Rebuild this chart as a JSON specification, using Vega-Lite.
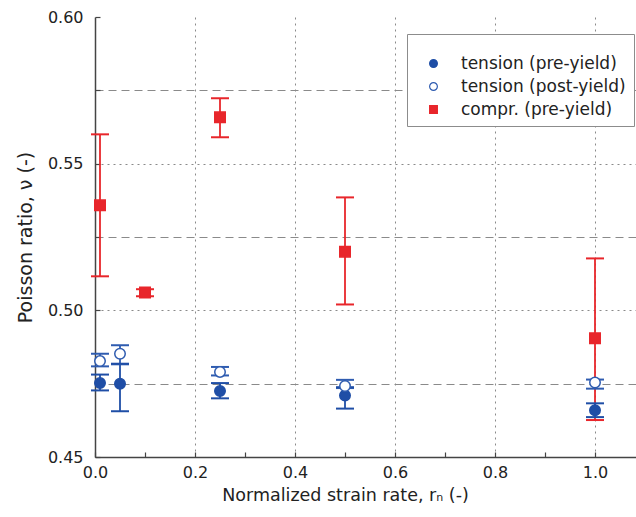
{
  "$schema": "https://vega.github.io/schema/vega-lite/v6.json",
  "autosize": "none",
  "width": 541,
  "height": 440,
  "padding": {"left": 95, "top": 17, "right": 0, "bottom": 60},
  "background": "white",
  "config": {
    "view": {"stroke": null},
    "font": "DejaVu Sans",
    "axis": {"labelFont": "DejaVu Sans", "titleFont": "DejaVu Sans", "labelColor": "#222", "titleColor": "#222", "titleFontWeight": "normal", "domainColor": "#444", "domainWidth": 1.5, "tickColor": "#444", "tickWidth": 1.2, "gridColor": "#8a8a8a", "gridWidth": 1},
    "legend": {"labelFont": "DejaVu Sans", "labelFontSize": 17, "labelColor": "#222", "labelLimit": 400, "strokeColor": "#8c8c8c", "fillColor": "white", "padding": 8, "symbolOffset": 10, "labelOffset": 19, "rowPadding": 5, "symbolSize": 60, "symbolStrokeWidth": 1.2, "titleFontSize": 13, "titlePadding": 0}
  },
  "data": {"values": [
    {"series": "compr. (pre-yield)", "x": 0.01, "y": 0.5358, "lo": 0.5116, "hi": 0.5600},
    {"series": "compr. (pre-yield)", "x": 0.1, "y": 0.5061, "lo": 0.5048, "hi": 0.5072},
    {"series": "compr. (pre-yield)", "x": 0.25, "y": 0.5658, "lo": 0.5590, "hi": 0.5723},
    {"series": "compr. (pre-yield)", "x": 0.5, "y": 0.5200, "lo": 0.5020, "hi": 0.5385},
    {"series": "compr. (pre-yield)", "x": 1.0, "y": 0.4905, "lo": 0.4626, "hi": 0.5177},
    {"series": "tension (pre-yield)", "x": 0.01, "y": 0.4752, "lo": 0.4727, "hi": 0.4781},
    {"series": "tension (pre-yield)", "x": 0.05, "y": 0.4750, "lo": 0.4656, "hi": 0.4818},
    {"series": "tension (pre-yield)", "x": 0.25, "y": 0.4725, "lo": 0.4700, "hi": 0.4752},
    {"series": "tension (pre-yield)", "x": 0.5, "y": 0.4710, "lo": 0.4665, "hi": 0.4738},
    {"series": "tension (pre-yield)", "x": 1.0, "y": 0.4659, "lo": 0.4636, "hi": 0.4683},
    {"series": "tension (post-yield)", "x": 0.01, "y": 0.4827, "lo": 0.4809, "hi": 0.4852},
    {"series": "tension (post-yield)", "x": 0.05, "y": 0.4852, "lo": 0.4816, "hi": 0.4881},
    {"series": "tension (post-yield)", "x": 0.25, "y": 0.4790, "lo": 0.4778, "hi": 0.4807},
    {"series": "tension (post-yield)", "x": 0.5, "y": 0.4742, "lo": 0.4735, "hi": 0.4763},
    {"series": "tension (post-yield)", "x": 1.0, "y": 0.4754, "lo": 0.4733, "hi": 0.4764}
  ]},
  "encoding": {
    "x": {"field": "x", "type": "quantitative",
      "scale": {"domain": [0, 1.082], "nice": false, "zero": false},
      "axis": {
        "title": "Normalized strain rate, rₙ (-)", "titleFontSize": 17.5, "titlePadding": 6,
        "titleX": 250, "titleAlign": "center",
        "values": [0, 0.1, 0.2, 0.3, 0.4, 0.5, 0.6, 0.7, 0.8, 0.9, 1.0],
        "labelExpr": "round(datum.value*10) % 2 == 0 ? format(datum.value, '.1f') : ''",
        "labelFontSize": 16, "labelPadding": 12, "labelFlush": false,
        "tickSize": -5,
        "grid": true, "gridDash": [2, 4],
        "gridOpacity": {"condition": {"test": "round(datum.value*10) % 2 == 0 && datum.value > 0", "value": 1}, "value": 0}
      }},
    "y": {"field": "y", "type": "quantitative",
      "scale": {"domain": [0.45, 0.6], "nice": false, "zero": false},
      "axis": {
        "title": "Poisson ratio, ν (-)", "titleFontSize": 19, "titlePadding": 12,
        "values": [0.45, 0.475, 0.5, 0.525, 0.55, 0.575, 0.6],
        "labelExpr": "round(datum.value*1000) % 50 == 0 ? format(datum.value, '.2f') : ''",
        "labelFontSize": 16, "labelPadding": 17, "labelFlush": false,
        "tickSize": -5,
        "grid": true,
        "gridDash": {"condition": {"test": "round(datum.value*1000) % 50 == 0", "value": [2, 4]}, "value": [8, 5]},
        "gridOpacity": {"condition": {"test": "datum.value > 0.59 || datum.value < 0.46", "value": 0}, "value": 1}
      }},
    "stroke": {"field": "series", "type": "nominal", "title": " ",
      "legend": {"orient": "none", "legendX": 312, "legendY": 17},
      "scale": {"domain": ["tension (pre-yield)", "tension (post-yield)", "compr. (pre-yield)"], "range": ["#1f4ea6", "#2f5cb0", "#e8262b"]}}
  },
  "layer": [
    {
      "mark": {"type": "rule", "strokeWidth": 1.8},
      "encoding": {
        "y": {"field": "lo", "type": "quantitative"},
        "y2": {"field": "hi"}
      }
    },
    {
      "mark": {"type": "rule", "strokeWidth": 2, "xOffset": -9, "x2Offset": 9},
      "encoding": {
        "x2": {"field": "x"},
        "y": {"field": "lo", "type": "quantitative"}
      }
    },
    {
      "mark": {"type": "rule", "strokeWidth": 2, "xOffset": -9, "x2Offset": 9},
      "encoding": {
        "x2": {"field": "x"},
        "y": {"field": "hi", "type": "quantitative"}
      }
    },
    {
      "mark": {"type": "point", "size": 110, "strokeWidth": 1.5, "opacity": 1},
      "encoding": {
        "shape": {"field": "series", "type": "nominal", "title": " ",
          "legend": {"orient": "none", "legendX": 312, "legendY": 17},
          "scale": {"domain": ["tension (pre-yield)", "tension (post-yield)", "compr. (pre-yield)"], "range": ["circle", "circle", "square"]}},
        "fill": {"field": "series", "type": "nominal", "title": " ",
          "legend": {"orient": "none", "legendX": 312, "legendY": 17},
          "scale": {"domain": ["tension (pre-yield)", "tension (post-yield)", "compr. (pre-yield)"], "range": ["#1f4ea6", "#ffffff", "#e8262b"]}}
      }
    }
  ]
}
